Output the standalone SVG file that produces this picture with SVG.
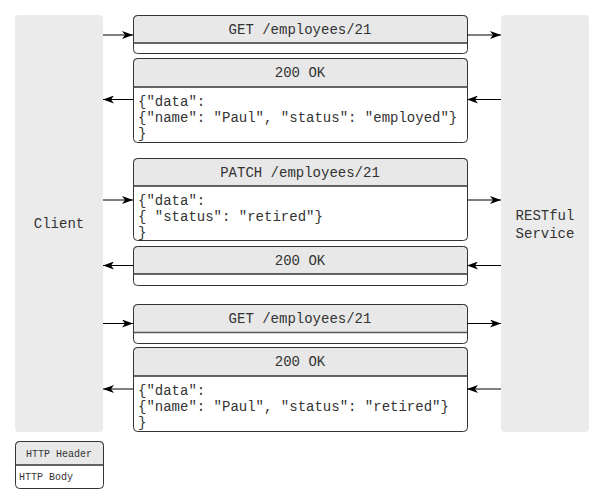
<svg xmlns="http://www.w3.org/2000/svg" width="607" height="504" viewBox="0 0 607 504">
<defs>
<style>
.lane{fill:#ebebeb;}
.box{fill:#ffffff;stroke:#333333;stroke-width:1;}
.hdr{fill:#e8e8e8;stroke:#333333;stroke-width:1;}
.sep{stroke:#555555;stroke-width:1.5;}
.t{font-family:"Liberation Mono","DejaVu Sans Mono",monospace;font-size:14px;fill:#333333;}
.ts{font-family:"Liberation Mono","DejaVu Sans Mono",monospace;font-size:10px;fill:#333333;}
.c{text-anchor:middle;}
.conn{stroke:#000000;stroke-width:1;fill:none;marker-end:url(#ah);}
</style>
<marker id="ah" viewBox="0 0 11 8" refX="11" refY="4" markerWidth="11" markerHeight="8" markerUnits="userSpaceOnUse" orient="auto">
<path d="M0,0 L11,4 L0,8 L3,4 Z" fill="#000000"/>
</marker>
</defs>
<g id="client">
<rect class="lane" x="15" y="15" width="88" height="417" rx="4"/>
<text class="t c" x="59" y="228">Client</text>
</g>
<g id="service">
<rect class="lane" x="501" y="15" width="88" height="417" rx="4"/>
<text class="t c" x="545" y="220">RESTful</text>
<text class="t c" x="545" y="238">Service</text>
</g>
<g id="req1">
<rect class="box" x="133.5" y="15.5" width="334" height="38" rx="4"/>
<path class="hdr" d="M133.5,43 V19.5 a4,4 0 0 1 4,-4 H463.5 a4,4 0 0 1 4,4 V43 Z"/>
<line class="sep" x1="133.5" y1="43" x2="467.5" y2="43"/>
<text class="t c" x="300" y="34">GET /employees/21</text>
</g>
<g id="resp1">
<rect class="box" x="133.5" y="58.5" width="334" height="84" rx="4"/>
<path class="hdr" d="M133.5,87 V62.5 a4,4 0 0 1 4,-4 H463.5 a4,4 0 0 1 4,4 V87 Z"/>
<line class="sep" x1="133.5" y1="87" x2="467.5" y2="87"/>
<text class="t c" x="300" y="77">200 OK</text>
<text class="t" x="138" y="106">{"data":</text>
<text class="t" x="138" y="122">{"name": "Paul", "status": "employed"}</text>
<text class="t" x="138" y="138">}</text>
</g>
<g id="req2">
<rect class="box" x="133.5" y="158.5" width="334" height="82" rx="4"/>
<path class="hdr" d="M133.5,186 V162.5 a4,4 0 0 1 4,-4 H463.5 a4,4 0 0 1 4,4 V186 Z"/>
<line class="sep" x1="133.5" y1="186" x2="467.5" y2="186"/>
<text class="t c" x="300" y="177">PATCH /employees/21</text>
<text class="t" x="138" y="205">{"data":</text>
<text class="t" x="138" y="221">{ "status": "retired"}</text>
<text class="t" x="138" y="237">}</text>
</g>
<g id="resp2">
<rect class="box" x="133.5" y="246.5" width="334" height="39" rx="4"/>
<path class="hdr" d="M133.5,274 V250.5 a4,4 0 0 1 4,-4 H463.5 a4,4 0 0 1 4,4 V274 Z"/>
<line class="sep" x1="133.5" y1="274" x2="467.5" y2="274"/>
<text class="t c" x="300" y="265">200 OK</text>
</g>
<g id="req3">
<rect class="box" x="133.5" y="304.5" width="334" height="39" rx="4"/>
<path class="hdr" d="M133.5,332.5 V308.5 a4,4 0 0 1 4,-4 H463.5 a4,4 0 0 1 4,4 V332.5 Z"/>
<line class="sep" x1="133.5" y1="332.5" x2="467.5" y2="332.5"/>
<text class="t c" x="300" y="323">GET /employees/21</text>
</g>
<g id="resp3">
<rect class="box" x="133.5" y="347.5" width="334" height="84" rx="4"/>
<path class="hdr" d="M133.5,376 V351.5 a4,4 0 0 1 4,-4 H463.5 a4,4 0 0 1 4,4 V376 Z"/>
<line class="sep" x1="133.5" y1="376" x2="467.5" y2="376"/>
<text class="t c" x="300" y="366">200 OK</text>
<text class="t" x="138" y="395">{"data":</text>
<text class="t" x="138" y="411">{"name": "Paul", "status": "retired"}</text>
<text class="t" x="138" y="427">}</text>
</g>
<g id="legend">
<rect class="box" x="15.5" y="441.5" width="88" height="47" rx="4"/>
<path class="hdr" d="M15.5,465 V445.5 a4,4 0 0 1 4,-4 H99.5 a4,4 0 0 1 4,4 V465 Z"/>
<line class="sep" x1="15.5" y1="465" x2="103.5" y2="465"/>
<text class="ts c" x="59" y="457">HTTP Header</text>
<text class="ts" x="19" y="480">HTTP Body</text>
</g>
<g id="connectors">
<line class="conn" x1="103" y1="35" x2="133" y2="35"/>
<line class="conn" x1="467" y1="35" x2="501" y2="35"/>
<line class="conn" x1="133" y1="99.5" x2="103" y2="99.5"/>
<line class="conn" x1="501" y1="99.5" x2="467" y2="99.5"/>
<line class="conn" x1="103" y1="200" x2="133" y2="200"/>
<line class="conn" x1="467" y1="200" x2="501" y2="200"/>
<line class="conn" x1="133" y1="265.5" x2="103" y2="265.5"/>
<line class="conn" x1="501" y1="265.5" x2="467" y2="265.5"/>
<line class="conn" x1="103" y1="323.5" x2="133" y2="323.5"/>
<line class="conn" x1="467" y1="323.5" x2="501" y2="323.5"/>
<line class="conn" x1="133" y1="389" x2="103" y2="389"/>
<line class="conn" x1="501" y1="389" x2="467" y2="389"/>
</g>
</svg>
